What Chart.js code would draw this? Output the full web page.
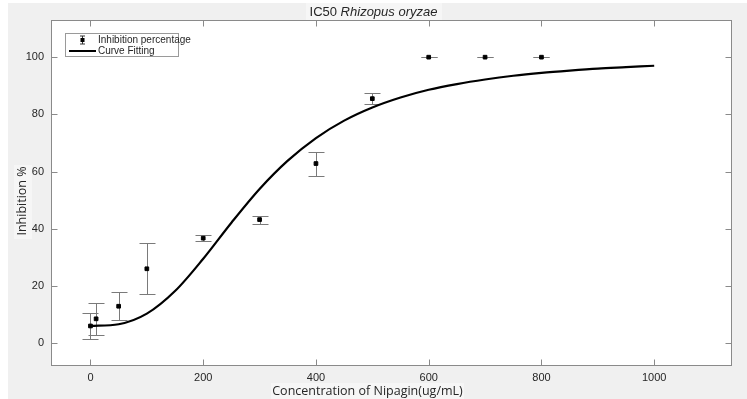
<!DOCTYPE html>
<html>
<head>
<meta charset="utf-8">
<script src="https://cdn.jsdelivr.net/npm/chart.js@4.4.1/dist/chart.umd.min.js"></script>
<style>
  html, body { margin: 0; padding: 0; background: #ffffff; overflow: hidden; }
  #wrap { width: 747px; height: 399px; }
</style>
</head>
<body>
<div id="wrap"><canvas id="c" width="747" height="399"></canvas></div>
<script>
// Measured inhibition (%) of Rhizopus oryzae at each Nipagin concentration (ug/mL)
const concentrations = [0, 10, 50, 100, 200, 300, 400, 500, 600, 700, 800];
const inhibition     = [6.0, 8.5, 12.9, 26.0, 36.7, 43.2, 62.8, 85.5, 100, 100, 100];
const inhibitionSD   = [4.5, 5.5, 4.9, 8.9, 1.0, 1.4, 4.2, 2.0, 0, 0, 0];

// Dose-response fit, sampled along the concentration axis
const fitX = [0, 50, 100, 150, 200, 250, 300, 350, 400, 450, 500,
              550, 600, 650, 700, 750, 800, 850, 900, 950, 1000];
const fitY = [6.0, 6.6, 10.3, 18.2, 29.5, 42.1, 53.9, 63.8, 71.7, 77.8, 82.4,
              85.9, 88.6, 90.6, 92.2, 93.5, 94.5, 95.3, 96.0, 96.5, 97.0];

// Axis ticks
const xTicks = [0, 200, 400, 600, 800, 1000];
const yTicks = [0, 20, 40, 60, 80, 100];

const TEXT = '#262626';
const AXIS = '#8a8a8a';
const NARROW = '"Liberation Sans Narrow", "Liberation Sans", Arial, sans-serif';
const LABEL = '"Open Sans", "Noto Sans", sans-serif';

const figurePlugin = {
  id: 'figure',
  beforeDraw(chart) {
    const ctx = chart.ctx, a = chart.chartArea;
    ctx.save();
    ctx.fillStyle = '#ffffff';
    ctx.fillRect(0, 0, chart.width, chart.height);
    ctx.fillStyle = '#f0f0f0';
    ctx.fillRect(8, 3, chart.width - 8, chart.height - 3);
    // label panels
    ctx.fillStyle = '#f6f6f6';
    ctx.fillRect(306, 3, 136, 17);
    ctx.fillRect(271, 383, 193, 16);
    ctx.fillRect(14, 165, 18, 74);
    ctx.fillStyle = '#ffffff';
    ctx.fillRect(a.left, a.top, a.right - a.left, a.bottom - a.top);
    ctx.restore();
  },
  beforeDatasetsDraw(chart) {
    const ctx = chart.ctx, xs = chart.scales.x, ys = chart.scales.y;
    ctx.save();
    ctx.strokeStyle = '#7a7a7a';
    ctx.lineWidth = 1;
    const cap = 8;
    concentrations.forEach((c, i) => {
      const px = Math.round(xs.getPixelForValue(c)) + 0.5;
      const top = Math.round(ys.getPixelForValue(inhibition[i] + inhibitionSD[i])) + 0.5;
      const bot = Math.round(ys.getPixelForValue(inhibition[i] - inhibitionSD[i])) + 0.5;
      ctx.beginPath();
      ctx.moveTo(px, top); ctx.lineTo(px, bot);
      ctx.moveTo(px - cap, top); ctx.lineTo(px + cap, top);
      ctx.moveTo(px - cap, bot); ctx.lineTo(px + cap, bot);
      ctx.stroke();
    });
    ctx.restore();
  },
  afterDatasetsDraw(chart) {
    const ctx = chart.ctx, a = chart.chartArea, xs = chart.scales.x, ys = chart.scales.y;
    ctx.save();
    ctx.strokeStyle = AXIS;
    ctx.lineWidth = 1;
    const L = Math.round(a.left) + 0.5, R = Math.round(a.right) - 0.5;
    const T = Math.round(a.top) + 0.5, B = Math.round(a.bottom) - 0.5;
    ctx.strokeRect(L, T, R - L, B - T);
    const tl = 6;
    ctx.beginPath();
    xTicks.forEach(v => {
      const px = Math.round(xs.getPixelForValue(v)) + 0.5;
      ctx.moveTo(px, B); ctx.lineTo(px, B - tl);
      ctx.moveTo(px, T); ctx.lineTo(px, T + tl);
    });
    yTicks.forEach(v => {
      const py = Math.round(ys.getPixelForValue(v)) + 0.5;
      ctx.moveTo(L, py); ctx.lineTo(L + tl, py);
      ctx.moveTo(R, py); ctx.lineTo(R - tl, py);
    });
    ctx.stroke();

    // legend box
    const lx = 65.5, ly = 33.5, lw = 113, lh = 23;
    ctx.fillStyle = '#ffffff';
    ctx.fillRect(lx, ly, lw, lh);
    ctx.strokeStyle = '#9a9a9a';
    ctx.strokeRect(lx, ly, lw, lh);
    // error-bar marker
    const mx = 82.5, my = 40;
    ctx.strokeStyle = '#333333';
    ctx.beginPath();
    ctx.moveTo(mx, my - 4); ctx.lineTo(mx, my + 4);
    ctx.moveTo(mx - 2.5, my - 4); ctx.lineTo(mx + 2.5, my - 4);
    ctx.moveTo(mx - 2.5, my + 4); ctx.lineTo(mx + 2.5, my + 4);
    ctx.stroke();
    ctx.fillStyle = '#000000';
    ctx.fillRect(mx - 2, my - 2, 4, 4);
    // line sample
    ctx.strokeStyle = '#000000';
    ctx.lineWidth = 2;
    ctx.beginPath();
    ctx.moveTo(69, 51); ctx.lineTo(96, 51);
    ctx.stroke();
    ctx.fillStyle = TEXT;
    ctx.font = '10px ' + NARROW;
    ctx.textBaseline = 'middle';
    ctx.textAlign = 'left';
    ctx.fillText(chart.data.datasets[0].label, 98, 40);
    ctx.fillText(chart.data.datasets[1].label, 98, 51);
    ctx.restore();
  },
  afterDraw(chart) {
    const ctx = chart.ctx;
    ctx.save();
    ctx.fillStyle = TEXT;
    ctx.textBaseline = 'middle';
    // title: plain prefix + italic species name
    const t1 = 'IC50 ', t2 = 'Rhizopus oryzae';
    const f1 = '13px ' + NARROW, f2 = 'italic 13px ' + NARROW;
    ctx.font = f1; const w1 = ctx.measureText(t1).width;
    ctx.font = f2; const w2 = ctx.measureText(t2).width;
    let x0 = 373.5 - (w1 + w2) / 2;
    ctx.textAlign = 'left';
    ctx.font = f1; ctx.fillText(t1, x0, 12);
    ctx.font = f2; ctx.fillText(t2, x0 + w1, 12);
    // axis titles
    ctx.font = '12.5px ' + LABEL;
    ctx.textAlign = 'center';
    ctx.fillText('Concentration of Nipagin(ug/mL)', 367.5, 391);
    ctx.translate(22, 201);
    ctx.rotate(-Math.PI / 2);
    ctx.fillText('Inhibition %', 0, 0);
    ctx.restore();
  }
};

const plainNumber = v => String(v);

new Chart(document.getElementById('c'), {
  type: 'scatter',
  data: {
    datasets: [
      {
        label: 'Inhibition percentage',
        data: concentrations.map((c, i) => ({ x: c, y: inhibition[i] })),
        pointStyle: 'rect',
        pointRadius: 2.6,
        pointBackgroundColor: '#000000',
        pointBorderColor: '#000000',
        pointBorderWidth: 1,
        showLine: false
      },
      {
        label: 'Curve Fitting',
        data: fitX.map((x, i) => ({ x: x, y: fitY[i] })),
        showLine: true,
        borderColor: '#000000',
        borderWidth: 2.2,
        pointRadius: 0,
        fill: false,
        cubicInterpolationMode: 'monotone'
      }
    ]
  },
  options: {
    responsive: false,
    devicePixelRatio: 1,
    animation: false,
    layout: { padding: { top: 20, right: 15, left: 0, bottom: 0 } },
    plugins: {
      legend: { display: false },
      title: { display: false },
      tooltip: { enabled: false }
    },
    scales: {
      x: {
        type: 'linear',
        min: -70,
        max: 1138,
        afterBuildTicks: s => { s.ticks = xTicks.map(v => ({ value: v })); },
        afterFit: s => { s.height = 33; },
        grid: { display: false, drawTicks: false },
        border: { display: false },
        ticks: { color: TEXT, padding: 5, maxRotation: 0, callback: plainNumber,
                 font: { family: NARROW, size: 11 } }
      },
      y: {
        type: 'linear',
        min: -8,
        max: 113,
        afterBuildTicks: s => { s.ticks = yTicks.map(v => ({ value: v })); },
        afterFit: s => { s.width = 51; },
        grid: { display: false, drawTicks: false },
        border: { display: false },
        ticks: { color: TEXT, padding: 7, callback: plainNumber,
                 font: { family: NARROW, size: 11 } }
      }
    }
  },
  plugins: [figurePlugin]
});
</script>
</body>
</html>
